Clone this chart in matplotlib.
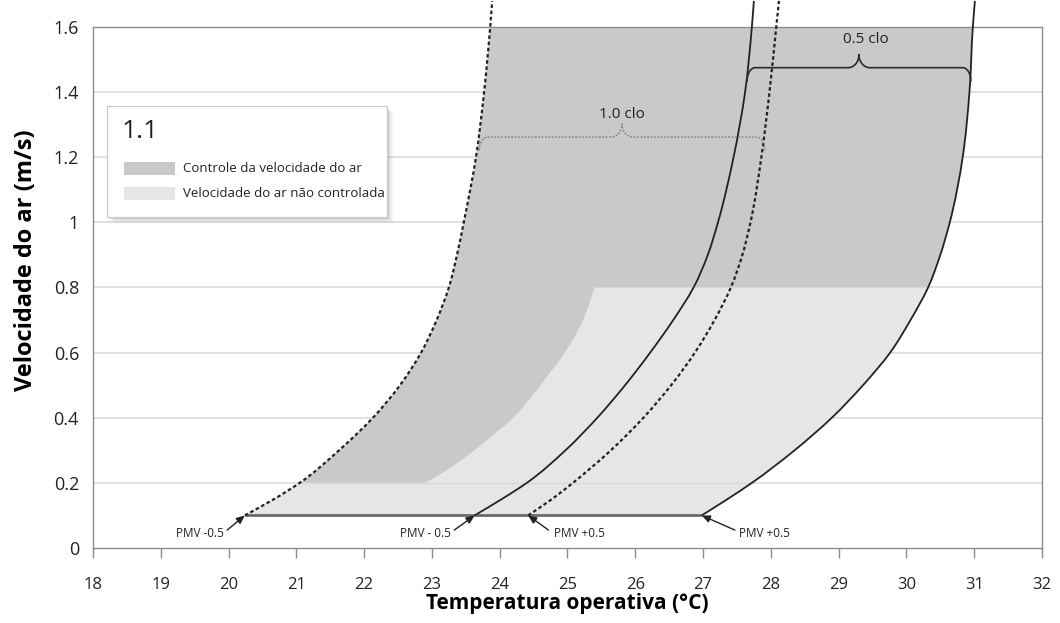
import numpy as np
import matplotlib
matplotlib.use("Agg")
import matplotlib.pyplot as plt
from matplotlib.patches import Rectangle, PathPatch
from matplotlib.path import Path

plt.rcParams['font.family'] = ['Open Sans', 'DejaVu Sans']

# --- curve data (temperature in C at given air speed) ---
v_curve = [0.1, 0.15, 0.2, 0.3, 0.4, 0.5, 0.6, 0.7, 0.8, 0.9, 1.0, 1.2, 1.4, 1.6, 1.68]
t_clo10_lo = [20.24, 20.67, 21.05, 21.63, 22.13, 22.53, 22.84, 23.07, 23.25, 23.37, 23.47, 23.65, 23.77, 23.86, 23.89]
t_clo05_lo = [23.63, 24.03, 24.40, 24.97, 25.44, 25.85, 26.22, 26.56, 26.86, 27.07, 27.22, 27.45, 27.62, 27.72, 27.75]
t_clo10_hi = [24.42, 24.77, 25.08, 25.64, 26.12, 26.53, 26.88, 27.17, 27.41, 27.58, 27.70, 27.86, 27.98, 28.08, 28.12]
t_clo05_hi = [26.98, 27.36, 27.72, 28.35, 28.90, 29.36, 29.76, 30.06, 30.32, 30.50, 30.64, 30.83, 30.93, 30.98, 31.01]

# boundary between controlled / uncontrolled air speed zones
t_edge = [22.90, 23.15, 23.50, 23.86, 24.20, 24.60, 24.96, 25.23, 25.40]
v_edge = [0.20, 0.23, 0.28, 0.34, 0.40, 0.50, 0.60, 0.70, 0.80]
v_still = 0.2    # limit of still air band
v_ctrl = 0.8     # upper limit without air speed control
v_top = 1.6

# PMV labels: text position, arrow tip
pmv_text = ["PMV -0.5", "PMV - 0.5", "PMV +0.5", "PMV +0.5"]
pmv_text_x = [19.58, 22.91, 25.17, 27.91]
pmv_tail_x = [19.98, 23.33, 24.72, 27.47]
pmv_tip_x = [20.24, 23.63, 24.42, 26.98]

# clothing brackets: x0, x1, y, label
brace_clo05 = [27.65, 30.95, 1.475, "0.5 clo"]
brace_clo10 = [23.70, 27.91, 1.262, "1.0 clo"]

x_ticks = list(range(18, 33))
y_ticks = [0, 0.2, 0.4, 0.6, 0.8, 1, 1.2, 1.4, 1.6]
y_ticklabels = ["0", "0.2", "0.4", "0.6", "0.8", "1", "1.2", "1.4", "1.6"]

DARK = "#c8c9cb"
LIGHT = "#e6e6e8"


def slopes(ts, vs):
    # dT/dv at each point (3-point, non-uniform spacing)
    n = len(ts)
    d = [(ts[i + 1] - ts[i]) / (vs[i + 1] - vs[i]) for i in range(n - 1)]
    m = [d[0]]
    for i in range(1, n - 1):
        h0, h1 = vs[i] - vs[i - 1], vs[i + 1] - vs[i]
        m.append((h1 * d[i - 1] + h0 * d[i]) / (h0 + h1))
    m.append(d[-1])
    return m


def smooth_segs(ts, vs, i0, i1):
    """Bezier segments of a cubic Hermite T(v) from point i0 to i1 (either direction)."""
    m = slopes(ts, vs)
    lo, hi = min(i0, i1), max(i0, i1)
    segs = []
    for i in range(lo, hi):
        h = vs[i + 1] - vs[i]
        c1 = (ts[i] + m[i] * h / 3, vs[i] + h / 3)
        c2 = (ts[i + 1] - m[i + 1] * h / 3, vs[i + 1] - h / 3)
        segs.append(((ts[i], vs[i]), c1, c2, (ts[i + 1], vs[i + 1])))
    verts = []
    if i1 > i0:
        for p0, c1, c2, p1 in segs:
            verts += [c1, c2, p1]
    else:
        for p0, c1, c2, p1 in segs[::-1]:
            verts += [c2, c1, p0]
    return verts, [Path.CURVE4] * len(verts)


def curve_path(ts, vs):
    v, c = smooth_segs(ts, vs, 0, len(ts) - 1)
    return Path([(ts[0], vs[0])] + v, [Path.MOVETO] + c)


fig = plt.figure(figsize=(10.6, 6.23), dpi=100)
ax = fig.add_axes([0.0877, 0.1204, 0.8953, 0.8363])
ax.set_xlim(18, 32)
ax.set_ylim(0, 1.6)

# gridlines
for yv in y_ticks[1:-1]:
    ax.axhline(yv, color="#dcdcdc", lw=1.2, zorder=0)

itop = v_curve.index(v_top)
i_still = v_curve.index(v_still)
i_ctrl = v_curve.index(v_ctrl)

# dark zone: everything between the outer curves
verts = [(t_clo10_lo[0], v_curve[0])]
codes = [Path.MOVETO]
v, c = smooth_segs(t_clo10_lo, v_curve, 0, itop); verts += v; codes += c
verts.append((t_clo05_hi[itop], v_curve[itop])); codes.append(Path.LINETO)
v, c = smooth_segs(t_clo05_hi, v_curve, itop, 0); verts += v; codes += c
verts.append(verts[0]); codes.append(Path.CLOSEPOLY)
ax.add_patch(PathPatch(Path(verts, codes), facecolor=DARK, edgecolor="none", zorder=1))

# light zone: still-air band + region right of the edge curve up to 0.8
verts = [(t_clo10_lo[0], v_curve[0])]
codes = [Path.MOVETO]
v, c = smooth_segs(t_clo10_lo, v_curve, 0, i_still); verts += v; codes += c
verts.append((t_edge[0], v_edge[0])); codes.append(Path.LINETO)
v, c = smooth_segs(t_edge, v_edge, 0, len(t_edge) - 1); verts += v; codes += c
verts.append((t_clo05_hi[i_ctrl], v_curve[i_ctrl])); codes.append(Path.LINETO)
v, c = smooth_segs(t_clo05_hi, v_curve, i_ctrl, 0); verts += v; codes += c
verts.append(verts[0]); codes.append(Path.CLOSEPOLY)
ax.add_patch(PathPatch(Path(verts, codes), facecolor=LIGHT, edgecolor="none", zorder=1))

# faint gridline at 0.2 over the light band
ax.plot([t_clo10_lo[i_still], t_clo05_hi[i_still]], [v_still, v_still], color="#dadadc", lw=1, zorder=1.5)

# bottom line at 0.1
ax.plot([t_clo10_lo[0], t_clo05_hi[0]], [v_curve[0], v_curve[0]], color="#6a6a6a", lw=2, zorder=2,
        solid_capstyle="butt")

# PMV curves
dots = (0, (1.6, 1.2))
for ts, ls, lw in [(t_clo10_lo, dots, 1.6), (t_clo10_hi, dots, 1.6),
                   (t_clo05_lo, "-", 1.3), (t_clo05_hi, "-", 1.3)]:
    ax.add_patch(PathPatch(curve_path(ts, v_curve), fill=False, edgecolor="#222222", lw=lw,
                           linestyle=ls, zorder=3, clip_on=False))


def brace(x0, x1, y, rx=0.12, ry=0.04, mrx=0.16, mh=0.04, **kw):
    xm = (x0 + x1) / 2
    xs, ys = [], []
    t = np.linspace(np.pi, np.pi / 2, 12)
    xs += list(x0 + rx + rx * np.cos(t)); ys += list(y - ry + ry * np.sin(t))
    t = np.linspace(-np.pi / 2, 0, 12)
    xs += list(xm - mrx + mrx * np.cos(t)); ys += list(y + mh + mh * np.sin(t))
    t = np.linspace(np.pi, 1.5 * np.pi, 12)
    xs += list(xm + mrx + mrx * np.cos(t)); ys += list(y + mh + mh * np.sin(t))
    t = np.linspace(np.pi / 2, 0, 12)
    xs += list(x1 - rx + rx * np.cos(t)); ys += list(y - ry + ry * np.sin(t))
    ax.plot(xs, ys, zorder=4, clip_on=False, **kw)
    return xm, y + mh


xm, ym = brace(*brace_clo05[:3], color="#2a2a2a", lw=1.2)
ax.text(xm + 0.1, ym + 0.025, brace_clo05[3], ha="center", va="bottom", fontsize=11, color="#222")
xm, ym = brace(*brace_clo10[:3], color="#7a7a7a", lw=0.9, ls=(0, (1.5, 1.2)))
ax.text(xm, ym + 0.005, brace_clo10[3], ha="center", va="bottom", fontsize=11, color="#222")

# PMV labels with arrows
for lab, tx, tl, tp in zip(pmv_text, pmv_text_x, pmv_tail_x, pmv_tip_x):
    ax.text(tx, 0.046, lab, ha="center", va="center", fontsize=8.5, color="#222", zorder=5)
    ax.annotate("", xy=(tp, 0.1), xytext=(tl, 0.055),
                arrowprops=dict(arrowstyle="-|>,head_length=0.5,head_width=0.22",
                                color="#222", lw=1.0, shrinkA=0, shrinkB=0), zorder=5)

# axes styling
for side in ["left", "right", "bottom", "top"]:
    ax.spines[side].set_color("#8c8c8c")
    ax.spines[side].set_linewidth(1.0)
ax.set_xticks(x_ticks)
ax.set_yticks(y_ticks)
ax.set_yticklabels(y_ticklabels)
ax.tick_params(axis="x", length=7, width=1, color="#8c8c8c", pad=14, labelsize=12, labelcolor="#222")
ax.tick_params(axis="y", length=0, pad=10, labelsize=13, labelcolor="#222")
ax.set_xlabel("Temperatura operativa (°C)", fontsize=15, fontweight="bold", labelpad=0)
ax.set_ylabel("Velocidade do ar (m/s)", fontsize=17, fontweight="bold")
ax.yaxis.set_label_coords(-0.058, 0.553)

# legend box with soft shadow
W, H = 1060, 623
bx0, by0, bx1, by1 = 107, 106, 387, 217
for k, a in zip(range(1, 8), [0.06, 0.05, 0.045, 0.035, 0.025, 0.018, 0.012]):
    fig.patches.append(Rectangle(((bx0 + k) / W, 1 - (by1 + k) / H), (bx1 - bx0) / W, (by1 - by0) / H,
                                 transform=fig.transFigure, facecolor="black", alpha=a, edgecolor="none",
                                 zorder=5))
fig.patches.append(Rectangle((bx0 / W, 1 - by1 / H), (bx1 - bx0) / W, (by1 - by0) / H,
                             transform=fig.transFigure, facecolor="white", edgecolor="#c8c8c8",
                             lw=0.8, zorder=6))
fig.text(122 / W, 1 - 131 / H, "1.1", fontsize=19, va="center", ha="left", color="#222", zorder=7)
for yy, col, lab in [(168.5, DARK, "Controle da velocidade do ar"),
                     (193.5, LIGHT, "Velocidade do ar não controlada")]:
    fig.patches.append(Rectangle((124 / W, 1 - (yy + 6.5) / H), 51 / W, 13 / H,
                                 transform=fig.transFigure, facecolor=col, edgecolor="none", zorder=7))
    fig.text(183 / W, 1 - yy / H, lab, fontsize=9.5, va="center", ha="left", color="#222", zorder=7)

fig.savefig("out.png", dpi=100)
